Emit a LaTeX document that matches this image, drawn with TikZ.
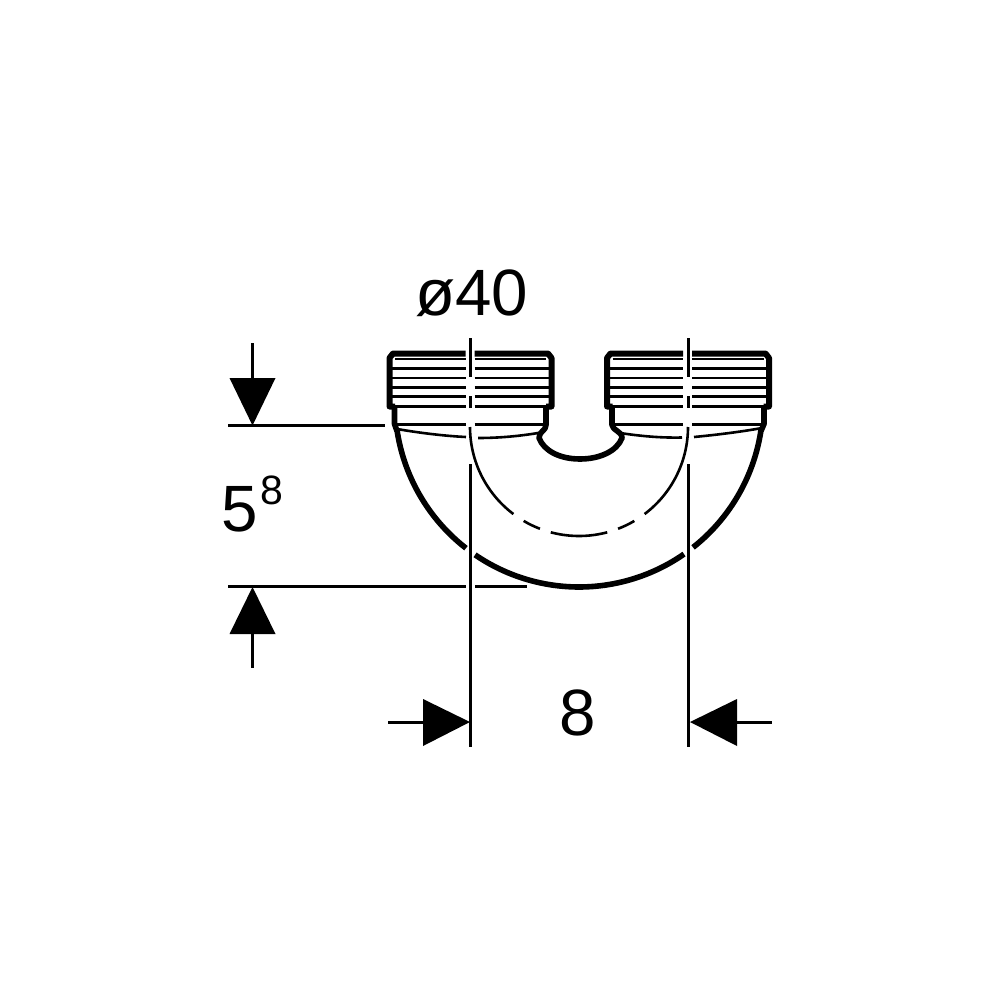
\documentclass[tikz,border=0pt]{standalone}
\usepackage{fontspec}
\setmainfont{Liberation Sans}
\begin{document}
\begin{tikzpicture}[x=1pt,y=-1pt,
  wall/.style={line width=5.6pt,line join=round},
  thread/.style={line width=2.4pt},
  centre/.style={line width=2.9pt},
  thin curve/.style={line width=2.6pt},
  dim/.style={line width=2.6pt},
  tip/.style={fill=black,draw=none},
  lab/.style={inner sep=0pt,font=\fontsize{65.5}{66}\selectfont},
  sup/.style={inner sep=0pt,font=\fontsize{41}{41}\selectfont}]
\useasboundingbox (0,0) rectangle (1000,1000);
\fill[white] (0,0) rectangle (1000,1000);
% sockets
\foreach \dx/\g in {0/470,217.5/687.5}{
  \begin{scope}[xshift=\dx pt]
  \draw[wall,line width=6pt] (465.5,353.5) -- (393,353.5) -- (389.5,358) -- (389.5,406.5) -- (395,406.5);
  \draw[wall,line width=6pt] (474.5,353.5) -- (548,353.5) -- (551.5,358) -- (551.5,406.5) -- (546,406.5);
  \foreach \y/\a/\b in {359/395/546,368.5/390/551,378/390/551,387.5/390/551,396.5/390/551,424.5/396/545}{
    \draw[thread] (\a,\y) -- (465.5,\y) (474.5,\y) -- (\b,\y);
  }
  \draw[line width=3.8pt] (392,406.5) -- (465.5,406.5) (474.5,406.5) -- (549,406.5);
  \end{scope}
}
\draw[centre] (470.6,338) -- (470.6,377) (470.6,396) -- (470.6,408);
\draw[centre] (688.4,338) -- (688.4,377) (688.4,396) -- (688.4,408);
% necks
\draw[wall] (394.5,408) -- (394.5,424) -- (397,431);
\draw[wall] (764,408) -- (764,424) -- (761,431);
\draw[wall] (546,408) -- (546,425) .. controls (546,431) and (539,431) .. (539,438)
  .. controls (544,451) and (560,459) .. (580,459)
  .. controls (600,459) and (617,451) .. (622,438)
  .. controls (622,431) and (613,431) .. (612,425) -- (612,408);
% shoulder curves
\draw[thin curve] (397,429) .. controls (420,433) and (445,436) .. (466,437);
\draw[thin curve] (478,438) .. controls (500,438) and (520,436) .. (538,433);
\draw[thin curve] (620,433) .. controls (640,436) and (660,438) .. (682,437.5);
\draw[thin curve] (694,437) .. controls (715,435) and (740,432) .. (762,428);
% outer bowl
\draw[wall,smooth] plot[domain=171.5:127.9,samples=30] ({579+184*cos(\x)},{403+184*sin(\x)});
\draw[wall,smooth] plot[domain=124.4:55.2,samples=50] ({579+184*cos(\x)},{403+184*sin(\x)});
\draw[wall,smooth] plot[domain=51.7:8.5,samples=30] ({579+184*cos(\x)},{403+184*sin(\x)});
% inner centre arc
\foreach \a/\b in {180/127,120.5/111,105/75,69/59.5,53/0}{
  \draw[thin curve,smooth] plot[domain=\a:\b,samples=30] ({579+109*cos(\x)},{427+109*sin(\x)});
}
% dimension: height
\node[sup,anchor=center] (h8) at (272,490) {8};
\node[lab,anchor=center] (h5) at (240,509) {5};
\coordinate (t1) at (252.5,343);
\coordinate (t2) at (252.5,380);
\draw[dim] (t1) -- (t2);
\fill[tip] (229.5,378) -- (275.5,378) -- (252.5,425.5) -- cycle;
\coordinate (e1) at (228,425.5);
\coordinate (e2) at (385,425.5);
\draw[dim] (e1) -- (e2);
\coordinate (f1) at (228,586.5);
\coordinate (f2) at (466,586.5);
\coordinate (f3) at (475,586.5);
\coordinate (f4) at (527,586.5);
\draw[dim] (f1) -- (f2) (f3) -- (f4);
\fill[tip] (229.5,634) -- (275.5,634) -- (252.5,587) -- cycle;
\coordinate (b1) at (252.5,632);
\coordinate (b2) at (252.5,668);
\draw[dim] (b1) -- (b2);
% dimension: width
\coordinate (v1) at (470.6,464);
\coordinate (v2) at (470.6,747);
\coordinate (w1) at (688.4,464);
\coordinate (w2) at (688.4,747);
\draw[centre] (v1) -- (v2) (w1) -- (w2);
\fill[tip] (470,722) -- (423,699) -- (423,746) -- cycle;
\fill[tip] (690,722) -- (737,699) -- (737,746) -- cycle;
\coordinate (l1) at (388,722.5);
\coordinate (l2) at (425,722.5);
\coordinate (r1) at (735,722.5);
\coordinate (r2) at (772,722.5);
\draw[dim] (l1) -- (l2) (r1) -- (r2);
% labels
\node[lab] (d40) at (471.5,293.5) {ø40};
\node[lab] (w8) at (577.5,713) {8};
\end{tikzpicture}
\end{document}
